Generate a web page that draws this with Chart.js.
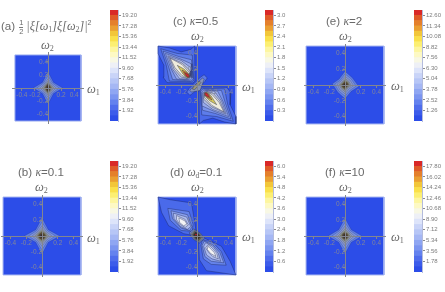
<!DOCTYPE html>
<html><head><meta charset="utf-8">
<script src="https://cdn.jsdelivr.net/npm/chart.js@4"></script>
<style>
html,body{margin:0;padding:0;background:#fff;width:445px;height:292px;overflow:hidden}
#page{position:relative;width:445px;height:292px;filter:blur(.35px)}
canvas{position:absolute;display:block}
.t{position:absolute;white-space:nowrap;color:#6a6a6a;font:11.6px "Liberation Sans",sans-serif;line-height:12px;transform:translateY(-50%)}
.w{position:absolute;white-space:nowrap;color:#6a6a6a;font:italic 12.5px "Liberation Serif",serif;line-height:12px;transform:translateY(-50%)}
.w sub,.t sub{font-size:65%;font-style:normal;line-height:0;vertical-align:-2px}
.t i{font-family:"Liberation Serif",serif}
.frac{display:inline-block;vertical-align:middle;text-align:center;font-size:7.5px;line-height:7.5px;margin:0 3px 0 4px}
.frac b{display:block;font-weight:normal;border-bottom:1px solid #777}
</style></head><body><div id="page"></div>
<script>
// colour-bar tick labels
const ticksA=['1.92','3.84','5.76','7.68','9.60','11.52','13.44','15.36','17.28','19.20'];
const ticksB=['1.92','3.84','5.76','7.68','9.60','11.52','13.44','15.36','17.28','19.20'];
const ticksC=['0.3','0.6','0.9','1.2','1.5','1.8','2.1','2.4','2.7','3.0'];
const ticksD=['0.6','1.2','1.8','2.4','3.0','3.6','4.2','4.8','5.4','6.0'];
const ticksE=['1.26','2.52','3.78','5.04','6.30','7.56','8.82','10.08','11.34','12.60'];
const ticksF=['1.78','3.56','5.34','7.12','8.90','10.68','12.46','14.24','16.02','17.80'];
// colour-bar band upper limits
const bandsA=[.96,1.92,2.88,3.84,4.8,5.76,6.72,7.68,8.64,9.6,10.56,11.52,12.48,13.44,14.4,15.36,16.32,17.28,18.24,19.2,20.16];
const bandsB=[.96,1.92,2.88,3.84,4.8,5.76,6.72,7.68,8.64,9.6,10.56,11.52,12.48,13.44,14.4,15.36,16.32,17.28,18.24,19.2,20.16];
const bandsC=[.15,.3,.45,.6,.75,.9,1.05,1.2,1.35,1.5,1.65,1.8,1.95,2.1,2.25,2.4,2.55,2.7,2.85,3,3.15];
const bandsD=[.3,.6,.9,1.2,1.5,1.8,2.1,2.4,2.7,3,3.3,3.6,3.9,4.2,4.5,4.8,5.1,5.4,5.7,6,6.3];
const bandsE=[.63,1.26,1.89,2.52,3.15,3.78,4.41,5.04,5.67,6.3,6.93,7.56,8.19,8.82,9.45,10.08,10.71,11.34,11.97,12.6,13.23];
const bandsF=[.89,1.78,2.67,3.56,4.45,5.34,6.23,7.12,8.01,8.9,9.79,10.68,11.57,12.46,13.35,14.24,15.13,16.02,16.91,17.8,18.69];
const bandColors=['#2c4de8','#3c5cea','#4f6dec','#6482ee','#7b95f0','#8fa6f2','#a5b7f4','#b7c6f6','#c9d4f8','#dde4fa','#eef0f6','#f8f8e4','#fdf9c4','#fdf6a0','#fcef72','#fae04a','#f2c63a','#ea9f32','#e4802c','#df5a28','#d92828'];
// axis tick values
const axisTicks=[-0.4,-0.2,0.2,0.4];
// contour regions, as omega1,omega2 pairs in axis units, outermost first
const starColors=['#6080e6','#7d94dc','#8d9ac4','#97a0a0','#8c8a62','#5e4f2c','#3d2c1a'];
const contourA=[
 [.225,0,.085,.085,0,.245,-.085,.085,-.225,0,-.085,-.085,0,-.245,.085,-.085],
 [.17,0,.072,.072,0,.185,-.072,.072,-.17,0,-.072,-.072,0,-.185,.072,-.072],
 [.125,0,.058,.06,0,.14,-.058,.06,-.125,0,-.058,-.06,0,-.14,.058,-.06],
 [.09,0,.046,.05,0,.105,-.046,.05,-.09,0,-.046,-.05,0,-.105,.046,-.05],
 [.065,0,.036,.04,0,.08,-.036,.04,-.065,0,-.036,-.04,0,-.08,.036,-.04],
 [.042,0,.027,.032,0,.065,-.027,.032,-.042,0,-.027,-.032,0,-.065,.027,-.032],
 [.018,0,.012,.02,0,.045,-.012,.02,-.018,0,-.012,-.02,0,-.045,.012,-.02]];
const contourB=[
 [.225,0,.08,.08,0,.23,-.08,.08,-.225,0,-.08,-.08,0,-.23,.08,-.08],
 [.17,0,.068,.068,0,.175,-.068,.068,-.17,0,-.068,-.068,0,-.175,.068,-.068],
 [.125,0,.056,.056,0,.13,-.056,.056,-.125,0,-.056,-.056,0,-.13,.056,-.056],
 [.09,0,.046,.046,0,.095,-.046,.046,-.09,0,-.046,-.046,0,-.095,.046,-.046],
 [.068,0,.038,.038,0,.07,-.038,.038,-.068,0,-.038,-.038,0,-.07,.038,-.038],
 [.048,0,.03,.03,0,.05,-.03,.03,-.048,0,-.03,-.03,0,-.05,.03,-.03],
 [.024,0,.016,.016,0,.026,-.016,.016,-.024,0,-.016,-.016,0,-.026,.016,-.016]];
const contourE=[
 [.175,-.02,.095,.09,0,.175,-.075,.075,-.16,.015,-.095,-.09,0,-.175,.08,-.08],
 [.14,-.015,.08,.075,0,.14,-.06,.06,-.13,.012,-.08,-.075,0,-.14,.065,-.065],
 [.11,-.01,.065,.06,0,.11,-.05,.05,-.1,.01,-.065,-.06,0,-.11,.05,-.05],
 [.08,-.008,.05,.045,0,.085,-.038,.038,-.075,.008,-.05,-.045,0,-.085,.038,-.038],
 [.06,-.005,.04,.035,0,.065,-.03,.03,-.058,.005,-.04,-.035,0,-.065,.03,-.03],
 [.045,0,.03,.027,0,.048,-.023,.023,-.045,0,-.03,-.027,0,-.048,.023,-.023],
 [.024,0,.016,.015,0,.026,-.013,.013,-.024,0,-.016,-.015,0,-.026,.013,-.013]];
const contourF=[
 [.215,0,.08,.08,0,.225,-.08,.08,-.215,0,-.08,-.08,0,-.225,.08,-.08],
 [.165,0,.068,.068,0,.17,-.068,.068,-.165,0,-.068,-.068,0,-.17,.068,-.068],
 [.12,0,.056,.056,0,.125,-.056,.056,-.12,0,-.056,-.056,0,-.125,.056,-.056],
 [.085,0,.045,.045,0,.09,-.045,.045,-.085,0,-.045,-.045,0,-.09,.045,-.045],
 [.062,0,.036,.036,0,.065,-.036,.036,-.062,0,-.036,-.036,0,-.065,.036,-.036],
 [.042,0,.027,.027,0,.044,-.027,.027,-.042,0,-.027,-.027,0,-.044,.027,-.027],
 [.022,0,.015,.015,0,.024,-.015,.015,-.022,0,-.015,-.015,0,-.024,.015,-.015]];
const lobeColors=['#4a6aea','#5e7dea','#7a94ec','#97aaec','#b3bfe8','#cfd1d4','#efecdc','#d8c95a','#e88a2a','#d92828'];
const contourCUpper=[
 [-.494,.494,-.35,.47,-.2,.42,-.08,.45,-.03,.494,-.025,.05,-.05,.025,-.38,.03,-.43,.1,-.42,.25,-.494,.4],
 [-.46,.46,-.25,.4,-.06,.38,-.04,.06,-.07,.04,-.35,.05,-.39,.25],
 [-.43,.43,-.23,.36,-.07,.32,-.05,.08,-.08,.05,-.31,.07,-.36,.23],
 [-.4,.4,-.21,.33,-.075,.27,-.065,.09,-.09,.065,-.26,.075,-.33,.21],
 [-.37,.37,-.2,.31,-.08,.22,-.075,.1,-.11,.075,-.22,.08,-.31,.2],
 [-.35,.35,-.19,.28,-.085,.18,-.085,.105,-.12,.085,-.2,.1,-.29,.2],
 [-.34,.34,-.19,.26,-.09,.15,-.095,.105,-.13,.09,-.19,.12,-.28,.22],
 [-.25,.25,-.16,.2,-.09,.13,-.1,.095,-.13,.09,-.18,.14],
 [-.19,.19,-.13,.16,-.09,.115,-.105,.09,-.15,.12],
 [-.16,.16,-.11,.135,-.1,.105,-.125,.1]];
const contourCLower=[
 [.494,-.494,.35,-.47,.2,-.42,.08,-.45,.03,-.494,.025,-.05,.05,-.025,.38,-.03,.43,-.1,.42,-.25,.494,-.4],
 [.46,-.46,.25,-.4,.06,-.38,.04,-.06,.07,-.04,.35,-.05,.39,-.25],
 [.43,-.43,.23,-.36,.07,-.32,.05,-.08,.08,-.05,.31,-.07,.36,-.23],
 [.4,-.4,.21,-.33,.075,-.27,.065,-.09,.09,-.065,.26,-.075,.33,-.21],
 [.37,-.37,.2,-.31,.08,-.22,.075,-.1,.11,-.075,.22,-.08,.31,-.2],
 [.35,-.35,.19,-.28,.085,-.18,.085,-.105,.12,-.085,.2,-.1,.29,-.2],
 [.34,-.34,.19,-.26,.09,-.15,.095,-.105,.13,-.09,.19,-.12,.28,-.22],
 [.25,-.25,.16,-.2,.09,-.13,.1,-.095,.13,-.09,.18,-.14],
 [.19,-.19,.13,-.16,.09,-.115,.105,-.09,.15,-.12],
 [.16,-.16,.11,-.135,.1,-.105,.125,-.1]];
const contourCMiddle=[
 [.13,.09,.09,.13,.045,.1,-.1,-.045,-.13,-.09,-.09,-.13,-.045,-.1,.1,.045],
 [.09,.07,.07,.09,-.07,-.04,-.09,-.07,-.07,-.09,.04,-.07],
 [.05,.03,.03,.05,-.04,-.02,-.06,-.05,-.03,-.06]];
const middleColors=['#5b78e8','#8894b8','#9a9878'];
const dipoleColors=['#4a6aea','#6583ea','#8aa0ec','#aebcee','#d4dbf2','#f4f4f4'];
const contourDUpper=[
 [-.494,.494,-.34,.46,-.07,.42,-.035,.21,-.01,.05,-.07,.01,-.17,.03,-.36,.13,-.45,.3],
 [-.37,.35,-.1,.31,-.05,.15,-.06,.06,-.2,.07,-.34,.2],
 [-.33,.32,-.12,.27,-.065,.12,-.09,.07,-.2,.1,-.31,.22],
 [-.3,.29,-.13,.24,-.08,.12,-.12,.085,-.21,.12,-.29,.22],
 [-.26,.26,-.15,.21,-.11,.14,-.15,.11,-.22,.15,-.26,.21],
 [-.23,.23,-.15,.19,-.13,.15,-.17,.13,-.22,.17]];
const contourDLower=[
 [.494,-.494,.42,-.32,.31,-.13,.08,-.02,.02,-.06,.03,-.3,.12,-.44],
 [.37,-.37,.31,-.2,.2,-.08,.07,-.05,.05,-.12,.08,-.29,.18,-.36],
 [.34,-.34,.29,-.21,.2,-.11,.09,-.065,.065,-.12,.1,-.26,.18,-.32],
 [.3,-.32,.27,-.22,.2,-.13,.11,-.085,.085,-.13,.12,-.24,.19,-.29],
 [.27,-.29,.25,-.22,.19,-.15,.14,-.11,.11,-.15,.15,-.21,.2,-.26],
 [.24,-.26,.22,-.21,.17,-.16,.14,-.13,.13,-.17,.17,-.22]];
const contourDCentre=[
 [.1,-.03,.04,.04,-.04,.09,-.1,.04,-.05,-.04,.03,-.09],
 [.08,-.03,.035,.035,-.03,.075,-.08,.03,-.035,-.04,.03,-.075],
 [.06,-.02,.025,.03,-.03,.06,-.06,.02,-.025,-.035,.025,-.06],
 [.045,-.01,.015,.025,-.02,.05,-.045,.012,-.012,-.03,.015,-.045],
 [.008,.02,-.01,.03,-.03,.02,-.018,.005]];
const centreColors=['#7088c8','#8b8f90','#6f6c4a','#3f3420','#d92828'];
const plotSquareAB=[-.505,.505,.505,.505,.505,-.505,-.505,-.505];
const plotSquare=[-.494,.494,.494,.494,.494,-.494,-.494,-.494];

const page=document.getElementById('page');
function closed(flat){const o=[];for(let i=0;i<flat.length;i+=2)o.push({x:flat[i],y:flat[i+1]});o.push(o[0]);return o}
function region(flat,color,line){return {type:'scatter',data:closed(flat),showLine:true,fill:'shape',backgroundColor:color,borderColor:line,borderWidth:.5,pointRadius:0,tension:0}}
function cv(l,t,w,h){const c=document.createElement('canvas');c.width=w;c.height=h;c.style.left=l+'px';c.style.top=t+'px';c.style.width=w+'px';c.style.height=h+'px';page.appendChild(c);return c}

function panel(cx,cy,half,range,square,groups){
  const size=half*2, c=cv(cx-half,cy-half,size,size);
  const ds=[region(square,'#2c4de8','#9fb0f0')];
  ds[0].borderWidth=1;
  groups.forEach(g=>g.polys.forEach((p,i)=>ds.push(region(p,g.colors[i],g.line))));
  ds.reverse();
  const axis=(horiz)=>({type:'linear',min:-range,max:range,
    position:horiz?{y:0}:{x:0},
    afterBuildTicks:s=>{s.ticks=axisTicks.map(v=>({value:v}))},
    afterFit:s=>{if(horiz)s.height=0;else s.width=0;s.paddingTop=s.paddingBottom=s.paddingLeft=s.paddingRight=0},
    ticks:{z:2,autoSkip:false,maxRotation:0,padding:1,color:'#82869a',font:{family:'Liberation Sans',size:6.5},
      callback:v=>v.toFixed(1)},
    border:{z:2,color:'#83868f',width:1},
    grid:{z:2,drawOnChartArea:false,drawTicks:true,tickLength:2,color:'#83868f'}});
  new Chart(c,{data:{datasets:ds},options:{responsive:false,animation:false,events:[],
    layout:{padding:0},plugins:{legend:{display:false},tooltip:{enabled:false}},
    scales:{x:axis(true),y:axis(false)}}});
}
function bar(l,t,h,ticks,bands){
  const c=cv(l,t-2,34,h+4), top=bands[bands.length-1];
  const ds=bands.map((b,i)=>({data:[[i?bands[i-1]:0,b]],backgroundColor:bandColors[i],borderWidth:0,barPercentage:1,categoryPercentage:1,grouped:false}));
  new Chart(c,{type:'bar',data:{labels:[''],datasets:ds},options:{responsive:false,animation:false,events:[],
    layout:{padding:{top:2,bottom:2}},plugins:{legend:{display:false},tooltip:{enabled:false}},
    scales:{x:{display:false,grid:{display:false}},
      y:{position:'right',min:0,max:top,
        afterBuildTicks:s=>{s.ticks=ticks.map(v=>({value:+v}))},
        afterFit:s=>{s.width=26;s.paddingTop=s.paddingBottom=0},
        ticks:{autoSkip:false,padding:1,color:'#7c7c7c',font:{family:'Liberation Sans',size:6},
          callback:v=>ticks.find(x=>+x===v)},
        border:{color:'#b4bcdc',width:1},
        grid:{drawOnChartArea:false,drawTicks:true,tickLength:3,color:'#8a8a8a'}}}}});
}
function text(cls,x,y,html){const d=document.createElement('div');d.className=cls;d.style.left=x+'px';d.style.top=y+'px';d.innerHTML=html;page.appendChild(d)}

const line='rgba(35,45,110,.5)', lineDark='rgba(25,35,90,.8)';
panel(48,88,36,.55,plotSquareAB,[{polys:contourA,colors:starColors,line}]);
panel(42,236,41,.52,plotSquare,[{polys:contourB,colors:starColors,line}]);
panel(197,85,41,.52,plotSquare,[{polys:contourCUpper,colors:lobeColors,line:lineDark},{polys:contourCLower,colors:lobeColors,line:lineDark},{polys:contourCMiddle,colors:middleColors,line:lineDark}]);
panel(197,236,41,.52,plotSquare,[{polys:contourDUpper,colors:dipoleColors,line:lineDark},{polys:contourDLower,colors:dipoleColors,line:lineDark},{polys:contourDCentre,colors:centreColors,line:lineDark}]);
panel(345,85,41,.52,plotSquare,[{polys:contourE,colors:starColors,line}]);
panel(345,236,41,.52,plotSquare,[{polys:contourF,colors:starColors,line}]);

bar(110,10,111,ticksA,bandsA);
bar(110,161,111,ticksB,bandsB);
bar(265,10,111,ticksC,bandsC);
bar(265,161,111,ticksD,bandsD);
bar(414,10,111,ticksE,bandsE);
bar(414,161,111,ticksF,bandsF);

text('t',1,27,'(a)<span class="frac"><b>1</b>2</span><i style="font-size:12.2px">|ξ[ω<sub>1</sub>]ξ[ω<sub>2</sub>]|</i><sup style="font-size:7px;line-height:0">2</sup>');
text('t',173,21,'(c) <i>κ</i>=0.5');
text('t',326,21,'(e) <i>κ</i>=2');
text('t',18,172,'(b) <i>κ</i>=0.1');
text('t',170,172,'(d) <i>ω<sub>d</sub></i>=0.1');
text('t',325,172,'(f) <i>κ</i>=10');
[[41,45],[191,36],[339,36],[35,187],[191,187],[339,187]].forEach(p=>text('w',p[0],p[1],'ω<sub>2</sub>'));
[[87,89],[242,87],[391,86],[87,238],[242,237],[391,237]].forEach(p=>text('w',p[0],p[1],'ω<sub>1</sub>'));
</script></body></html>
